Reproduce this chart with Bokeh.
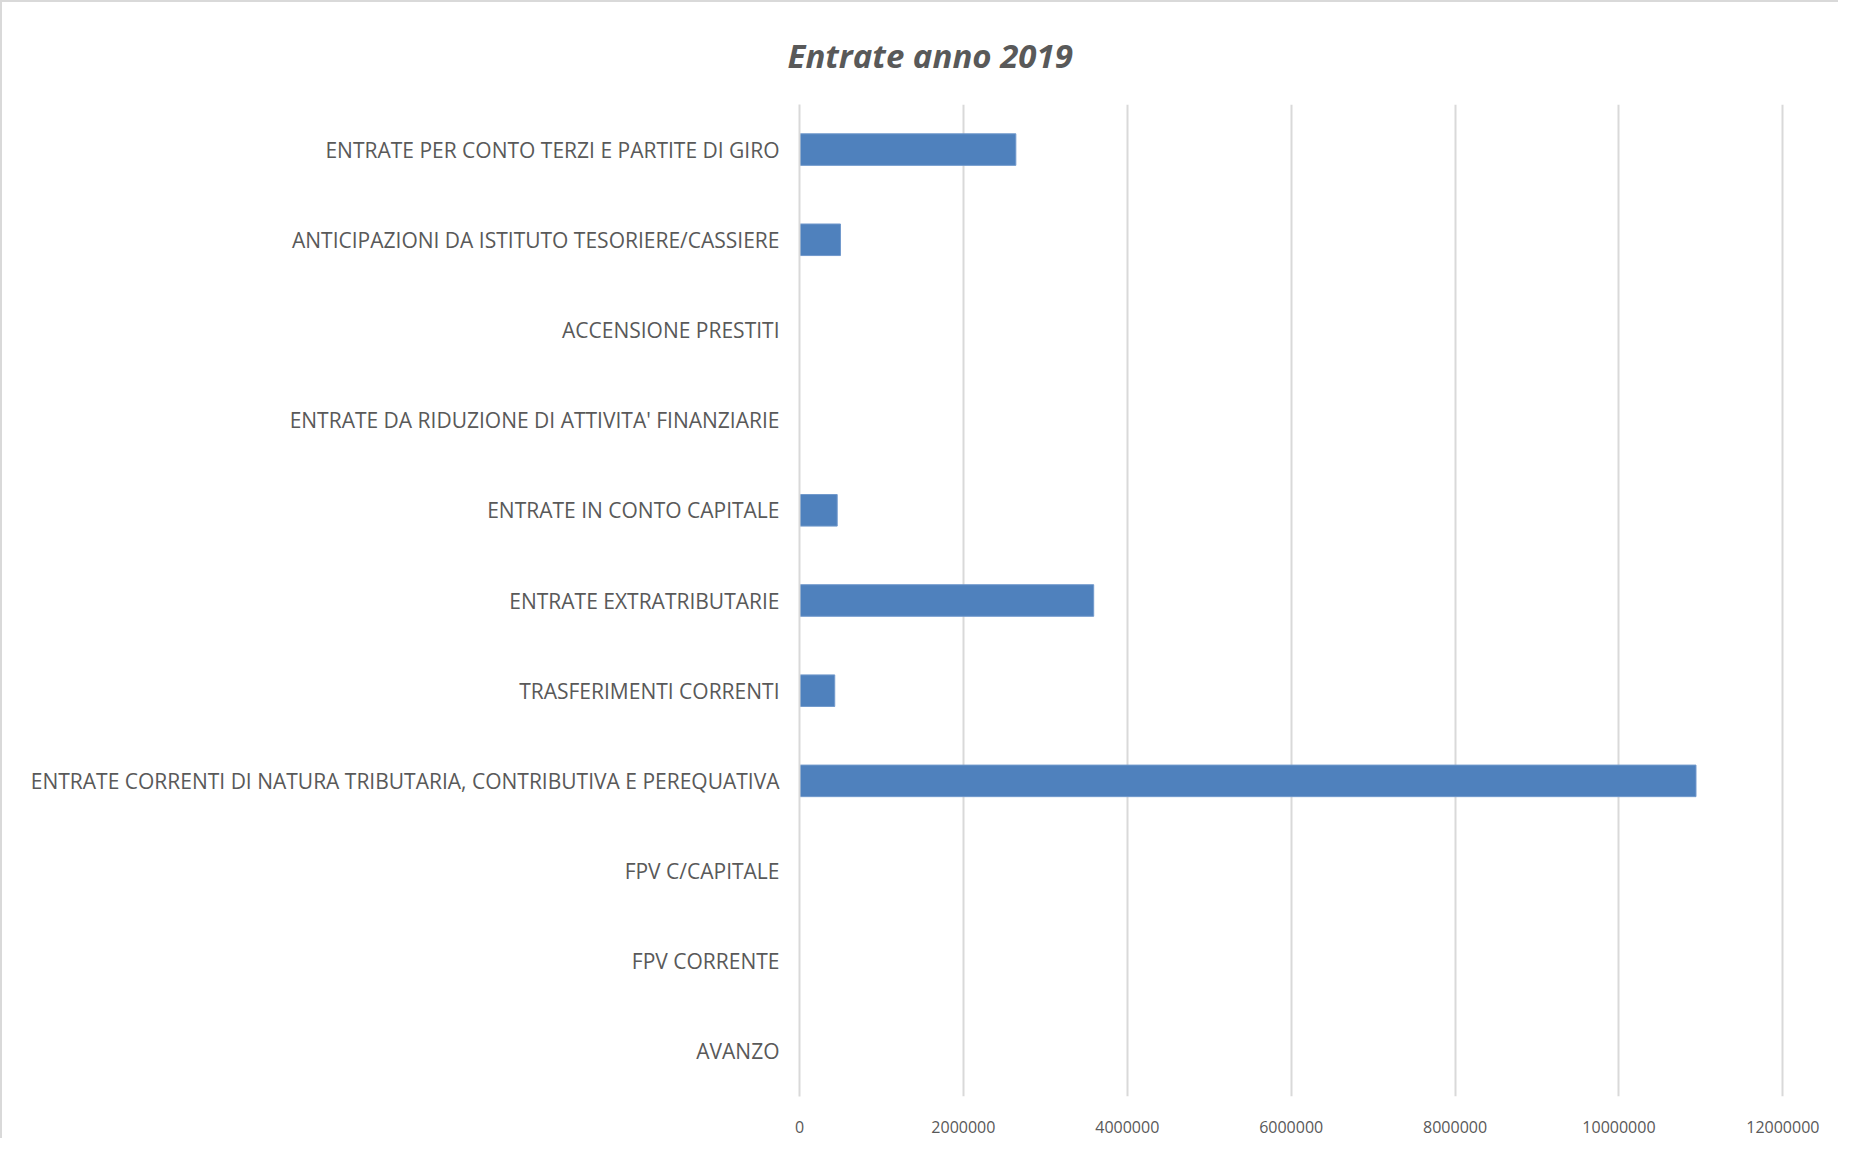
from bokeh.plotting import figure
from bokeh.models import FixedTicker, BasicTickFormatter, Range1d, FactorRange, Title
from bokeh.embed import file_html
from bokeh.resources import INLINE

# Data (bottom to top)
categories = [
    "AVANZO",
    "FPV CORRENTE",
    "FPV C/CAPITALE",
    "ENTRATE CORRENTI DI NATURA TRIBUTARIA, CONTRIBUTIVA E PEREQUATIVA",
    "TRASFERIMENTI CORRENTI",
    "ENTRATE EXTRATRIBUTARIE",
    "ENTRATE IN CONTO CAPITALE",
    "ENTRATE DA RIDUZIONE DI ATTIVITA' FINANZIARIE",
    "ACCENSIONE PRESTITI",
    "ANTICIPAZIONI DA ISTITUTO TESORIERE/CASSIERE",
    "ENTRATE PER CONTO TERZI E PARTITE DI GIRO",
]
values = [0, 0, 0, 10940000, 430000, 3590000, 460000, 0, 0, 500000, 2640000]
x_ticks = [0, 2000000, 4000000, 6000000, 8000000, 10000000, 12000000]
title_text = "Entrate anno 2019"

TEXT = "#595959"
GRID = "#d9d9d9"
FONT = "Open Sans"

p = figure(
    width=1838, height=1138,
    y_range=FactorRange(*categories, range_padding=0),
    x_range=Range1d(0, 12020000),
    output_backend="svg", toolbar_location=None,
    min_border_left=797, min_border_right=56, min_border_top=102, min_border_bottom=44,
)
p.styles = {"border-left": "2px solid #d9d9d9", "border-top": "2px solid #d9d9d9"}
p.outline_line_color = None

p.hbar(y=categories, right=values, left=0, height=0.35,
       fill_color="#4f81bd", line_color="#7199cc", line_width=1)

# title placed above, shifted to be centred on the whole chart
t = Title(text=title_text, align="left", offset=-12, standoff=54,
          text_font=FONT, text_font_size="33px", text_font_style="bold italic",
          text_color=TEXT)
p.add_layout(t, "above")

# axes
p.xaxis.ticker = FixedTicker(ticks=x_ticks)
p.xaxis.formatter = BasicTickFormatter(use_scientific=False)
p.xaxis.axis_line_color = None
p.xaxis.major_tick_line_color = None
p.xaxis.minor_tick_line_color = None
p.xaxis.major_label_text_font = FONT
p.xaxis.major_label_text_font_size = "16px"
p.xaxis.major_label_text_color = TEXT
p.xaxis.major_label_standoff = 18

p.yaxis.axis_line_color = GRID
p.yaxis.axis_line_width = 2
p.yaxis.major_tick_line_color = None
p.yaxis.minor_tick_line_color = None
p.yaxis.major_label_text_font = FONT
p.yaxis.major_label_text_font_size = "21px"
p.yaxis.major_label_text_color = TEXT
p.yaxis.major_label_standoff = 14

p.xgrid.grid_line_color = GRID
p.xgrid.grid_line_width = 2
p.ygrid.grid_line_color = None

open("out.html", "w").write(file_html(p, INLINE))
